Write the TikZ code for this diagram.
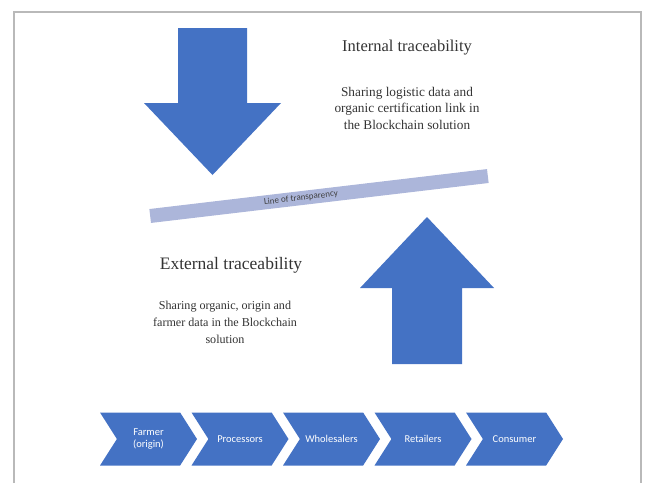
\documentclass[tikz,border=0pt]{standalone}
\usepackage{fontspec}
\setmainfont{Liberation Serif}
\newfontfamily\calibri{Carlito}
\usetikzlibrary{shapes.symbols, positioning}
\definecolor{officeblue}{RGB}{68,114,196}
\definecolor{barblue}{RGB}{172,182,218}
\definecolor{framegray}{RGB}{185,185,185}
\tikzstyle{stage} = [signal, signal to=east, signal from=west, signal pointer angle=115, minimum width=97pt, minimum height=53pt, inner sep=0pt, fill=officeblue, text=white, align=center, font=\calibri\fontsize{10.5}{12}\selectfont]
\tikzstyle{blockarrow} = [fill=officeblue]
\tikzstyle{inttitle} = [text=black!80, font=\fontsize{16.5}{19}\selectfont]
\tikzstyle{exttitle} = [text=black!80, font=\fontsize{17.5}{20}\selectfont]
\tikzstyle{body} = [text=black!80, align=center, inner sep=0pt]

\begin{document}
\begin{tikzpicture}[x=1pt, y=-1pt, node distance=91.5pt]
            \useasboundingbox (0,0) rectangle (652,483);
            \draw [framegray, line width=1.5pt] (14,483) -- (14,12) -- (641,12) -- (641,483);

            % big arrows
            \fill [blockarrow] (178,28) -- (247,28) -- (247,103) -- (281,103) -- (212.5,175) -- (144,103) -- (178,103) -- cycle;
            \fill [blockarrow] (392,364) -- (462,364) -- (462,288) -- (494,288) -- (427,217) -- (360,288) -- (392,288) -- cycle;

            % line of transparency
            \node (bar) [fill=barblue, minimum width=340pt, minimum height=14pt, rotate=6.75] at (319,196) {};
            \node (barlabel) [rotate=6.75, text=black!75, inner sep=0pt, font=\calibri\fontsize{9}{10}\selectfont] at (301,198) {Line of transparency};

            % texts
            \node (internal) [inttitle] at (407,48) {Internal traceability};
            \node (intdata)  [body, font=\fontsize{13.3}{16.5}\selectfont] at (407,108) {Sharing logistic data and\\organic certification link in\\the Blockchain solution};
            \node (external) [exttitle] at (231,265) {External traceability};
            \node (extdata)  [body, font=\fontsize{12.1}{17}\selectfont] at (225,322) {Sharing organic, origin and\\farmer data in the Blockchain\\solution};

            % supply chain
            \node (farmer)      [stage] at (148.5,439) {Farmer\\(origin)};
            \node (processors)  [stage, right of=farmer]      {Processors};
            \node (wholesalers) [stage, right of=processors]  {Wholesalers};
            \node (retailers)   [stage, right of=wholesalers] {Retailers};
            \node (consumer)    [stage, right of=retailers]   {Consumer};
        \end{tikzpicture}
\end{document}
